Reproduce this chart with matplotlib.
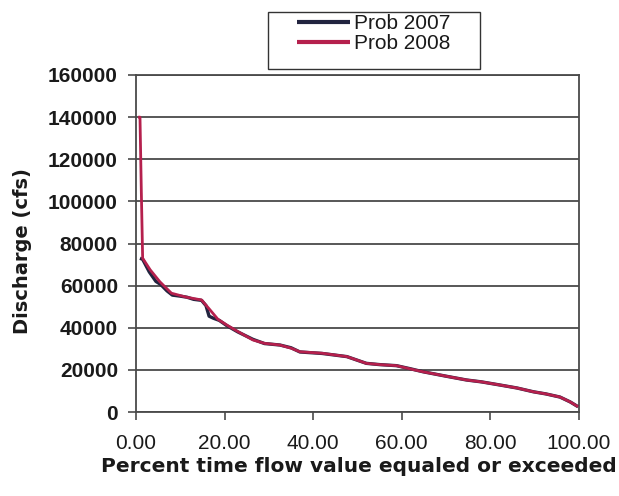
import matplotlib
matplotlib.use("Agg")
import matplotlib.pyplot as plt
from matplotlib.patches import Rectangle

# Flow duration data: percent of time a discharge is equaled or exceeded
pct_2007 = [0.9, 1.5, 3.0, 4.5, 5.6, 7.0, 8.2, 10.0, 11.5, 13.0, 14.8, 15.8, 16.5,
            17.5, 18.8, 20.5, 23.0, 26.4, 29.0, 32.5, 35.0, 37.0, 42.0, 47.6,
            52.0, 55.0, 58.8, 62.0, 64.8, 70.0, 74.6, 78.0, 82.2, 86.0, 89.7,
            92.5, 95.7, 98.0, 99.8]
q_2007 = [73000, 72500, 66500, 62000, 60500, 57500, 55500, 55000, 54500, 53500,
          53000, 50500, 45500, 44500, 43500, 41000, 38000, 34500, 32500, 31800,
          30500, 28500, 27800, 26300, 23100, 22500, 22000, 20500, 19100, 17000,
          15200, 14300, 12800, 11400, 9600, 8600, 7100, 4800, 2500]

pct_2008 = [0.5, 0.9, 1.2, 1.5, 3.2, 5.4, 8.0, 11.4, 14.8, 16.7, 18.5, 20.5,
            23.0, 26.4, 29.0, 32.5, 35.0, 37.0, 42.0, 47.6, 52.0, 55.0, 58.8,
            62.0, 64.8, 70.0, 74.6, 78.0, 82.2, 86.0, 89.7, 92.5, 95.7, 98.0, 99.8]
q_2008 = [140000, 140000, 105000, 73000, 67500, 61800, 56400, 54500, 53200,
          48500, 44000, 41300, 38200, 34200, 32600, 31800, 30300, 28600, 27900,
          26300, 23100, 22500, 22000, 20400, 19100, 17000, 15200, 14300, 12800,
          11400, 9600, 8600, 7100, 4800, 2500]

series_labels = ["Prob 2007", "Prob 2008"]
x_ticks = [0, 20, 40, 60, 80, 100]
y_ticks = [0, 20000, 40000, 60000, 80000, 100000, 120000, 140000, 160000]

plt.rcParams['font.family'] = ['Liberation Sans', 'DejaVu Sans']

W, H = 619, 496
fig = plt.figure(figsize=(W / 100, H / 100), dpi=100)
ax = fig.add_axes([136 / W, 1 - 412 / H, 443 / W, 337 / H])

grid_col = "#4a4a4a"
text_col = "#1a1a1a"
ax.plot(pct_2007, q_2007, color="#22243f", lw=2.4, label=series_labels[0],
        zorder=3, solid_capstyle="butt")
ax.plot(pct_2008, q_2008, color="#b5204d", lw=2.0, label=series_labels[1],
        zorder=4, solid_capstyle="butt")

ax.set_xlim(0, 100)
ax.set_ylim(0, 160000)
ax.set_xticks(x_ticks)
ax.set_xticklabels([f"{v:.2f}" for v in x_ticks])
ax.set_yticks(y_ticks)
ax.set_yticklabels([str(v) for v in y_ticks])

ax.yaxis.grid(True, color=grid_col, lw=1.3)
ax.set_axisbelow(True)
for s in ax.spines.values():
    s.set_color(grid_col)
    s.set_linewidth(1.3)

ax.tick_params(axis="both", direction="out", length=6, width=1.2,
               color=grid_col, labelsize=15, labelcolor=text_col)
ax.tick_params(axis="y", pad=7)
ax.tick_params(axis="x", pad=10)
for lab in ax.get_yticklabels():
    lab.set_fontweight("bold")

label_font = dict(family=["DejaVu Sans"], fontweight="bold", color=text_col)
ax.set_ylabel("Discharge (cfs)", fontsize=14, **label_font)
ax.yaxis.set_label_coords(22 / W, 1 - 251 / H, transform=fig.transFigure)
ax.set_xlabel("Percent time flow value equaled or exceeded", fontsize=14.5,
              **label_font)
ax.xaxis.set_label_coords(359 / W, 1 - 466 / H, transform=fig.transFigure)
ax.xaxis.label.set_va("center")
ax.yaxis.label.set_va("center")

# Legend content, with its own box drawn around it
leg = fig.legend(loc="upper left", bbox_to_anchor=(297 / W, 1 - 14 / H),
                 fontsize=15, frameon=False, handlelength=2.55,
                 handletextpad=0.2, labelspacing=0.05, borderpad=0.0,
                 borderaxespad=0.0)
for t in leg.get_texts():
    t.set_color(text_col)
for h in leg.legend_handles:
    h.set_linewidth(3.0)
fig.add_artist(Rectangle((268 / W, 1 - 69 / H), 212 / W, 57 / H,
                         transform=fig.transFigure, fill=False,
                         edgecolor="#333333", lw=1.0))

fig.savefig("out.png", dpi=100)
